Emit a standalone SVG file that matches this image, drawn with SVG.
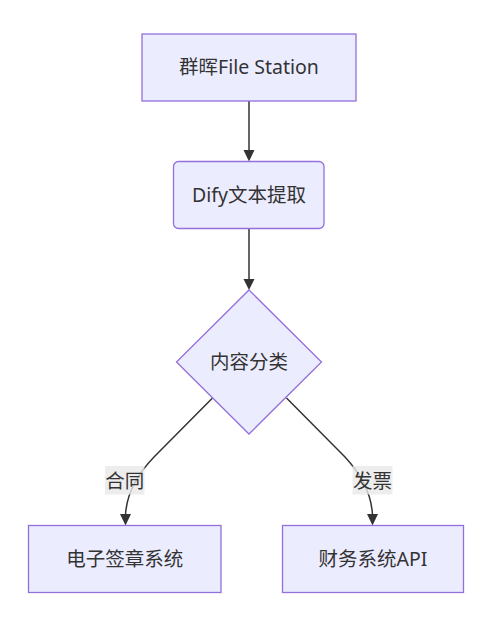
<svg xmlns="http://www.w3.org/2000/svg" width="504" height="642" viewBox="0 0 504 642">
<style>
.node{fill:#ECECFF;stroke:#9370DB;stroke-width:1.3}
.t{font-family:"Noto Sans","Noto Sans CJK SC",sans-serif;font-size:19.5px;fill:#333;text-anchor:middle;dominant-baseline:central}
.e{fill:none;stroke:#333;stroke-width:1.5}
.lbl{fill:#e8e8e8;opacity:0.8}
</style>
<rect width="504" height="642" fill="#fff"/>
<g id="edges">
<path class="e" d="M249,101 L249,151"/>
<path d="M243.5,150 L254.5,150 L249,161.5 z" fill="#333"/>
<path class="e" d="M249,228 L249,280"/>
<path d="M243.5,279 L254.5,279 L249,290 z" fill="#333"/>
<path class="e" d="M212.5,398 L154,457 Q127,485 125.5,515"/>
<path d="M120,514 L131,514 L125.5,525.5 z" fill="#333"/>
<path class="e" d="M286.5,398 L345,457 Q371,485 372.5,515"/>
<path d="M367,514 L378,514 L372.5,525.5 z" fill="#333"/>
</g>
<g id="label-contract">
<rect class="lbl" x="105" y="466" width="39.5" height="28.5"/>
<text class="t" x="124.7" y="480">合同</text>
</g>
<g id="label-invoice">
<rect class="lbl" x="352.5" y="466" width="40" height="28.5"/>
<text class="t" x="372.5" y="480">发票</text>
</g>
<g id="n1">
<rect class="node" x="142" y="34" width="214" height="67"/>
<text class="t" x="249" y="66.5">群晖File Station</text>
</g>
<g id="n2">
<rect class="node" x="173.5" y="161.5" width="150.5" height="67" rx="5" ry="5"/>
<text class="t" x="249" y="194.5">Dify文本提取</text>
</g>
<g id="n3">
<polygon class="node" points="249,290 321.5,362 249,434 176.5,362"/>
<text class="t" x="249" y="361.5">内容分类</text>
</g>
<g id="n4">
<rect class="node" x="28.5" y="525.5" width="192.5" height="67"/>
<text class="t" x="124.7" y="558.5">电子签章系统</text>
</g>
<g id="n5">
<rect class="node" x="282.5" y="525.5" width="181" height="67"/>
<text class="t" x="373" y="558.5">财务系统API</text>
</g>
</svg>
